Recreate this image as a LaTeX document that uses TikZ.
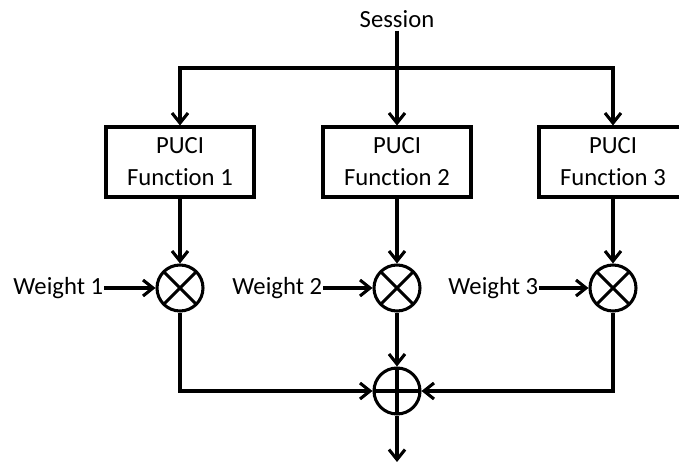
\documentclass[tikz,border=0pt]{standalone}
\usepackage{fontspec}
\setmainfont{Carlito}[Ligatures=NoCommon]
\usetikzlibrary{arrows.meta}

\tikzset{
  wire/.style={line width=2.3pt},
  arr/.style={wire, -{Straight Barb[length=7.5pt,width=12pt,line width=2.3pt]}},
  funcbox/.style={draw, line width=2.3pt, minimum width=111pt, minimum height=52.5pt, align=center, inner sep=0pt},
  mulnode/.style={draw, circle, line width=2.3pt, minimum size=34.5pt, inner sep=0pt,
    path picture={\draw[line width=2.3pt] (path picture bounding box.south west) -- (path picture bounding box.north east)
      (path picture bounding box.north west) -- (path picture bounding box.south east);}},
  sumnode/.style={draw, circle, line width=2.3pt, minimum size=34.5pt, inner sep=0pt,
    path picture={\draw[line width=2.3pt] (path picture bounding box.west) -- (path picture bounding box.east)
      (path picture bounding box.north) -- (path picture bounding box.south);}},
  label/.style={inner sep=0.5pt}
}

\begin{document}
\begin{tikzpicture}[x=0.75pt,y=0.75pt,yscale=-1,xscale=1,font=\fontsize{18.5}{24}\selectfont]
	\useasboundingbox (0,0) rectangle (679,463);
	
	% Text Node
	\node [label, inner sep=2pt] (session) at (397,19) {Session};
	
	%Shape: Rectangle
	\node [funcbox] (f1) at (180,162) {PUCI\\Function 1};
	\node [funcbox] (f2) at (397,162) {PUCI\\Function 2};
	\node [funcbox] (f3) at (613,162) {PUCI\\Function 3};
	
	%Shape: Circle
	\node [mulnode] (m1) at (180,288) {};
	\node [mulnode] (m2) at (397,288) {};
	\node [mulnode] (m3) at (613,288) {};
	\node [sumnode] (sum) at (397,391) {};
	
	% Text Node
	\node [label, anchor=east] (w1) at (104,288) {Weight 1};
	\node [label, anchor=east] (w2) at (323,288) {Weight 2};
	\node [label, anchor=east] (w3) at (539,288) {Weight 3};
	
	\coordinate (split) at (397,68);
	\coordinate (out) at (397,462);
	
	%Straight Lines
	\draw [arr] (session.south) -- (f2.north);
	\draw [arr] (split) -| (f1.north);
	\draw [arr] (split) -| (f3.north);
	\draw [arr] (f1.south) -- (m1.north);
	\draw [arr] (f2.south) -- (m2.north);
	\draw [arr] (f3.south) -- (m3.north);
	\draw [arr] (w1.east) -- (m1.west);
	\draw [arr] (w2.east) -- (m2.west);
	\draw [arr] (w3.east) -- (m3.west);
	\draw [arr] (m2.south) -- (sum.north);
	\draw [arr] (m1.south) |- (sum.west);
	\draw [arr] (m3.south) |- (sum.east);
	\draw [arr] (sum.south) -- (out);
	
\end{tikzpicture}
\end{document}
